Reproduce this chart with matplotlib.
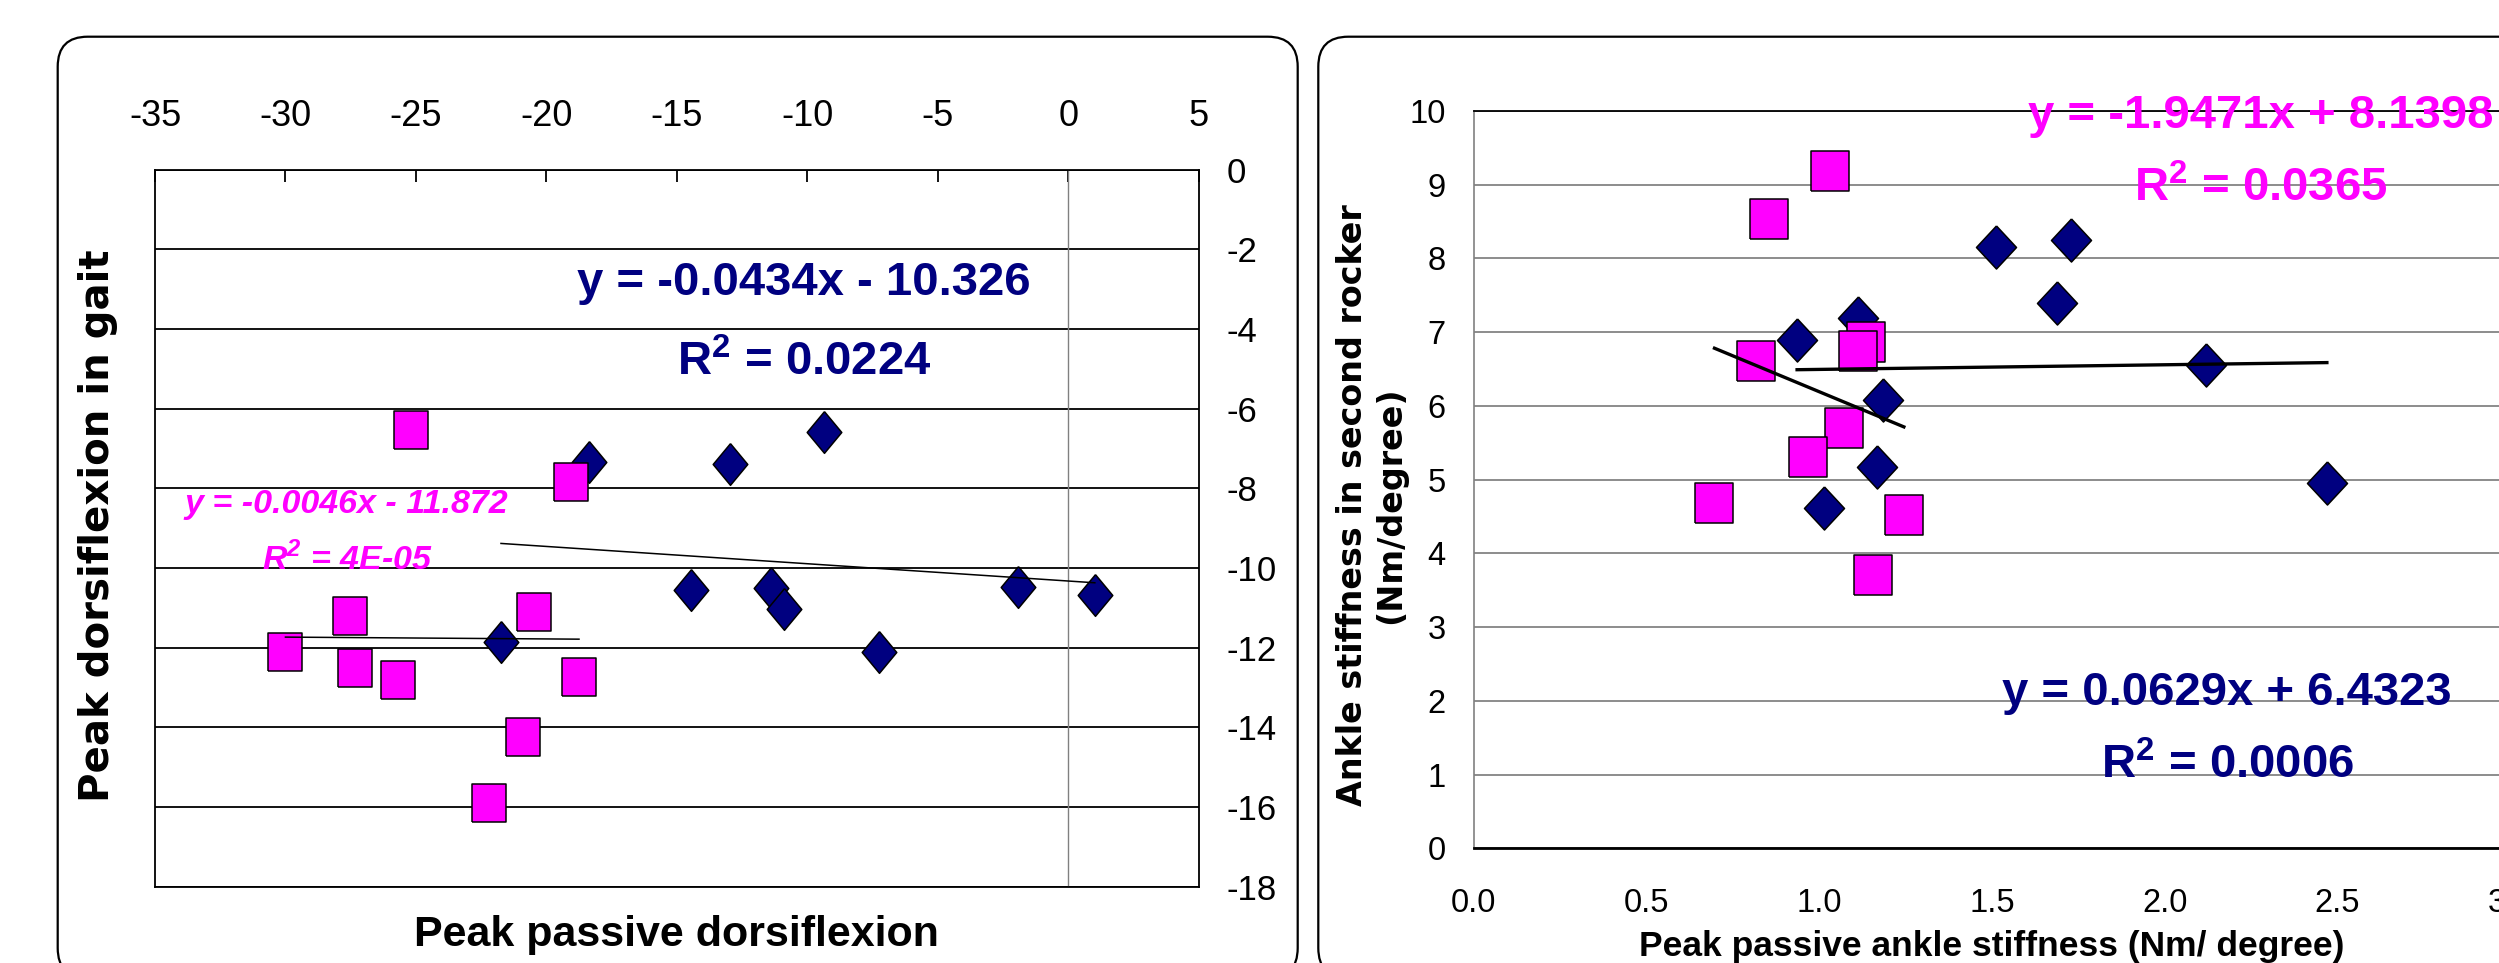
import matplotlib
matplotlib.use('Agg')
import matplotlib.pyplot as plt
from matplotlib.patches import FancyBboxPatch
import numpy as np

plt.rcParams['font.family'] = ['Liberation Sans', 'DejaVu Sans']
plt.rcParams['axes.unicode_minus'] = False
plt.rcParams['mathtext.fontset'] = 'custom'
plt.rcParams['mathtext.bf'] = 'Liberation Sans:bold'
plt.rcParams['mathtext.bfit'] = 'Liberation Sans:italic:bold'

W, H = 2499, 963
NAVY = '#000080'
MAGENTA = '#FF00FF'

# --- painel esquerdo: dorsiflexão passiva x dorsiflexão na marcha ---
passiva_azul = [-18.37, -12.96, -9.37, -14.46, -11.38, -10.9, -7.24, -1.93, 1.02, -21.74]
marcha_azul = [-7.34, -7.38, -6.58, -10.54, -10.49, -11.04, -12.1, -10.47, -10.68, -11.85]
passiva_rosa = [-25.2, -19.04, -27.53, -20.47, -30.0, -27.33, -25.68, -18.75, -20.88, -22.19]
marcha_rosa = [-6.54, -7.85, -11.2, -11.1, -12.12, -12.52, -12.82, -12.73, -14.24, -15.91]
ajuste_esq_azul = (-0.0434, -10.326)
ajuste_esq_rosa = (-0.0046, -11.872)
xticks_esq = [-35, -30, -25, -20, -15, -10, -5, 0, 5]
yticks_esq = [0, -2, -4, -6, -8, -10, -12, -14, -16, -18]

# --- painel direito: rigidez passiva x rigidez no segundo rocker ---
rig_passiva_azul = [1.511, 1.728, 1.688, 1.113, 0.936, 2.119, 1.186, 1.168, 2.469, 1.015]
rig_rocker_azul = [8.16, 8.25, 7.40, 7.19, 6.89, 6.555, 6.08, 5.175, 4.95, 4.61]
rig_passiva_rosa = [1.031, 0.856, 1.135, 1.113, 0.816, 1.073, 0.969, 0.697, 1.245, 1.157]
rig_rocker_rosa = [9.18, 8.53, 6.87, 6.75, 6.61, 5.70, 5.31, 4.69, 4.52, 3.70]
ajuste_dir_azul = (0.0629, 6.4323)
ajuste_dir_rosa = (-1.9471, 8.1398)
xticks_dir = [0.0, 0.5, 1.0, 1.5, 2.0, 2.5, 3.0]
yticks_dir = list(range(0, 11))


def fx(x):
    return x / W


def fy(y):
    return 1 - y / H


def losango(r):
    return [(0, 1), (r, 0), (0, -1), (-r, 0), (0, 1)]


def quadrado(r):
    return [(-r, -1), (r, -1), (r, 1), (-r, 1), (-r, -1)]


def reta(ax, xs, coef, lw):
    xs = np.array([min(xs), max(xs)])
    ax.plot(xs, coef[0] * xs + coef[1], color='black', lw=lw, zorder=5)


fig = plt.figure(figsize=(W / 100, H / 100), dpi=100)

# molduras arredondadas
for x0, larg in [(0.577, 12.40), (13.183, 13.0)]:
    caixa = FancyBboxPatch((x0, -0.15), larg, 9.413,
                           boxstyle='round,pad=0,rounding_size=0.3',
                           transform=fig.dpi_scale_trans, fill=False,
                           ec='black', lw=1.6)
    fig.add_artist(caixa)

# ---------------- painel esquerdo ----------------
ax1 = fig.add_axes([fx(155), fy(886.7), 1043.7 / W, 717 / H])
ax1.set_xlim(-35, 5)
ax1.set_ylim(-18, 0)
ax1.set_axisbelow(True)
ax1.xaxis.tick_top()
ax1.set_xticks(xticks_esq)
ax1.tick_params(axis='x', direction='in', length=8.6, width=1.3,
                labelsize=26, pad=25.5, top=True, bottom=False)
ax1.yaxis.tick_right()
ax1.set_yticks(yticks_esq)
ax1.tick_params(axis='y', length=0, labelsize=25, pad=20)
ax1.grid(axis='y', color='black', lw=1.3)
ax1.axvline(0, color='#808080', lw=1.0, zorder=1)
for s in ax1.spines.values():
    s.set_linewidth(1.3)

ax1.scatter(passiva_azul, marcha_azul, marker=losango(0.83), s=30 ** 2,
            c=NAVY, edgecolors='black', linewidths=1.1, zorder=3)
ax1.scatter(passiva_rosa, marcha_rosa, marker=quadrado(0.895), s=27.4 ** 2,
            c=MAGENTA, edgecolors='black', linewidths=1.1, zorder=4)
reta(ax1, passiva_azul, ajuste_esq_azul, 1.1)
reta(ax1, passiva_rosa, ajuste_esq_rosa, 1.1)

# ---------------- painel direito ----------------
ax2 = fig.add_axes([fx(1473.6), fy(848.3), 1036.8 / W, 737.3 / H])
ax2.set_xlim(0, 3)
ax2.set_ylim(0, 10)
ax2.set_axisbelow(True)
ax2.set_xticks(xticks_dir)
ax2.set_xticklabels([f'{v:.1f}' for v in xticks_dir])
ax2.set_yticks(yticks_dir)
ax2.tick_params(axis='x', length=0, labelsize=23.5, pad=28.6)
ax2.tick_params(axis='y', length=0, labelsize=23.5, pad=20)
ax2.grid(axis='y', color='#8c8c8c', lw=1.4)
ax2.spines['right'].set_visible(False)
ax2.spines['top'].set_linewidth(1.3)
ax2.spines['bottom'].set_linewidth(2.0)
ax2.spines['left'].set_color('#808080')
ax2.spines['left'].set_linewidth(1.2)

ax2.scatter(rig_passiva_azul, rig_rocker_azul, marker=losango(0.93), s=31 ** 2,
            c=NAVY, edgecolors='black', linewidths=1.1, zorder=3)
ax2.scatter(rig_passiva_rosa, rig_rocker_rosa, marker=quadrado(0.95), s=28.8 ** 2,
            c=MAGENTA, edgecolors='black', linewidths=1.1, zorder=4)
reta(ax2, rig_passiva_azul, ajuste_dir_azul, 2.4)
reta(ax2, rig_passiva_rosa, ajuste_dir_rosa, 2.4)

# ---------------- equações ----------------
eq = dict(ha='center', va='baseline', fontweight='bold')
r2 = 'R$^{\\mathbf{2}}$ = '
r2_it = 'R$^{\\mathbfit{2}}$ = '
fig.text(fx(804), fy(295), 'y = -0.0434x - 10.326', fontsize=34, color=NAVY, **eq)
fig.text(fx(804.5), fy(375), r2 + '0.0224', fontsize=34, color=NAVY, **eq)
fig.text(fx(346.7), fy(513.3), 'y = -0.0046x - 11.872', fontsize=24.5,
         color=MAGENTA, style='italic', **eq)
fig.text(fx(347.5), fy(570), r2_it + '4E-05', fontsize=24.5,
         color=MAGENTA, style='italic', **eq)
fig.text(fx(2260.8), fy(128.3), 'y = -1.9471x + 8.1398', fontsize=34, color=MAGENTA, **eq)
fig.text(fx(2261), fy(201.7), r2 + '0.0365', fontsize=34, color=MAGENTA, **eq)
fig.text(fx(2227), fy(705), 'y = 0.0629x + 6.4323', fontsize=34, color=NAVY, **eq)
fig.text(fx(2227), fy(778), r2 + '0.0006', fontsize=34, color=NAVY, **eq)

# ---------------- títulos dos eixos ----------------
fig.text(fx(676), fy(946), 'Peak passive dorsiflexion', fontsize=31, **eq)
fig.text(fx(1992), fy(956), 'Peak passive ankle stiffness (Nm/ degree)', fontsize=25.5, **eq)
fig.text(fx(98), fy(526), 'Peak dorsiflexion in gait', rotation=90, ha='center',
         va='center', fontsize=29, fontweight='bold', family='DejaVu Sans')
fig.text(fx(1372), fy(505), 'Ankle stiffness in second rocker\n(Nm/degree)',
         rotation=90, ha='center', va='center', multialignment='center',
         fontsize=24, fontweight='bold', family='DejaVu Sans')

fig.savefig('out.png', dpi=100)
